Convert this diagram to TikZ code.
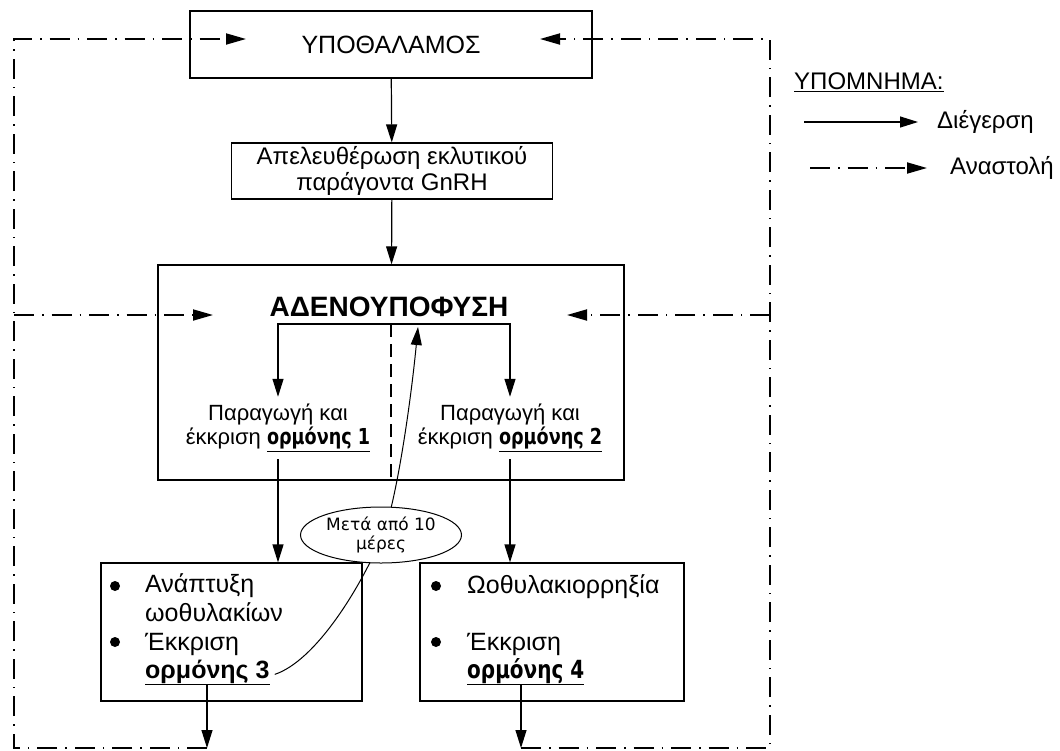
\documentclass[tikz,border=0pt]{standalone}
\usepackage{fontspec}
\setmainfont{Liberation Sans}
\newfontfamily\tahoma[FakeStretch=0.8]{DejaVu Sans}
\newfontfamily\tahomaw{DejaVu Sans}
\usetikzlibrary{arrows.meta,shapes.geometric,positioning}

\begin{document}
\begin{tikzpicture}[x=1pt,y=-1pt]
\tikzset{stim/.style={-{Triangle[length=18pt,width=11pt]},line width=1.2pt}}
\tikzset{inhib/.style={-{Triangle[length=20pt,width=11pt]},line width=1.8pt,dash pattern=on 20pt off 8pt on 1.5pt off 8pt}}
\tikzstyle{box}=[draw,rectangle,line width=1.2pt,inner sep=0pt]
\tikzstyle{item}=[inner sep=0pt,anchor=base west,font=\fontsize{25}{28}\selectfont]
\tikzstyle{dot}=[circle,fill,inner sep=0pt,minimum size=10pt]
\newcommand{\horm}[1]{{\tahoma\bfseries\underline{ορμόνης #1}}}
\useasboundingbox (0,0) rectangle (1060,750);
% frame corners and arrow ends
\coordinate (fTL) at (14,39);
\coordinate (fTR) at (770,39);
\coordinate (fML) at (14,315);
\coordinate (fMR) at (770,315);
\coordinate (fBL) at (14,748);
\coordinate (fBR) at (770,748);
\coordinate (hL) at (246,39);
\coordinate (hR) at (540,39);
\coordinate (aL) at (213,315);
\coordinate (aR) at (567,315);
\coordinate (bot3) at (207,748);
\coordinate (bot4) at (521,748);
% boxes
\node[box,minimum width=402pt,minimum height=67pt,font=\fontsize{25}{28}\selectfont] (hypo) at (391,44.5) {ΥΠΟΘΑΛΑΜΟΣ};
\node[box,minimum width=321pt,minimum height=56pt,align=center,font=\fontsize{24}{26}\selectfont] (gnrh) at (392,171) {Απελευθέρωση εκλυτικού\\παράγοντα GnRH};
\node[box,minimum width=466pt,minimum height=215pt] (adeno) at (391,372.5) {};
\node[inner sep=0pt,font=\bfseries\fontsize{28}{30}\selectfont] (title) at (389,307) {ΑΔΕΝΟΥΠΟΦΥΣΗ};
\coordinate (split) at (391,324);
\node[align=center,inner sep=0pt,minimum height=62pt,font=\fontsize{22}{24}\selectfont] (t1) at (278,428) {Παραγωγή και\\έκκριση \horm{1}};
\node[align=center,inner sep=0pt,minimum height=62pt,font=\fontsize{22}{24}\selectfont] (t2) at (510,428) {Παραγωγή και\\έκκριση \horm{2}};
\node[box,minimum width=261pt,minimum height=138pt] (b3) at (231.5,632) {};
\node[box,minimum width=264pt,minimum height=138pt] (b4) at (552,632) {};
% box 3 list
\node[dot] (d31) at (115,586) {};
\node[dot] (d32) at (115,642) {};
\node[item] (a1) at (145,592) {Ανάπτυξη};
\node[item] (a2) at (145,621) {ωοθυλακίων};
\node[item] (a3) at (145,650) {Έκκριση};
\node[item] (h3) at (145,678) {\textbf{\underline{ορμόνης 3}}};
% box 4 list
\node[dot] (d41) at (436,586) {};
\node[dot] (d42) at (436,642) {};
\node[item] (w1) at (467,593) {Ωοθυλακιορρηξία};
\node[item] (w2) at (467,650) {Έκκριση};
\node[item] (h4) at (467,678) {\horm{4}};
% stimulation
\draw[stim] (hypo) -- (gnrh);
\draw[stim] (gnrh) -- (adeno);
\draw[stim] (split) -| (t1);
\draw[stim] (split) -| (t2);
\draw[line width=1.8pt,dash pattern=on 13pt off 7pt] (split) -- (split |- adeno.south);
\draw[stim] (t1) -- (t1 |- b3.north);
\draw[stim] (t2) -- (t2 |- b4.north);
\draw[stim] (h3.south -| bot3) -- (bot3);
\draw[stim] (h4.south -| bot4) -- (bot4);
\coordinate (fb) at (418,327);
\draw[stim,line width=1pt] ([xshift=5pt,yshift=-2pt]h3.east) .. controls (315,661) and (360,590) .. (385,530) .. controls (398,490) and (411,400) .. (fb);
\node[ellipse,draw,fill=white,line width=1pt,minimum width=161pt,minimum height=56pt,inner sep=0pt,align=center,font=\tahomaw\fontsize{17}{19}\selectfont] (delay) at (381,535) {Μετά από 10\\μέρες};
% inhibition
\draw[inhib] (bot3) -- (fBL) -- (fTL) -- (hL);
\draw[inhib] (fML) -- (aL);
\draw[inhib] (bot4) -- (fBR) -- (fTR) -- (hR);
\draw[inhib] (fMR) -- (aR);
% legend
\node[anchor=west,inner sep=0pt,font=\fontsize{24}{28}\selectfont] (legend) at (794,82) {\underline{ΥΠΟΜΝΗΜΑ:}};
\node[anchor=west,inner sep=0pt,font=\fontsize{24}{28}\selectfont] (dieg) at (937,122) {Διέγερση};
\node[anchor=west,inner sep=0pt,font=\fontsize{24}{28}\selectfont] (anast) at (950,168) {Αναστολή};
\coordinate (ls) at (804,122);
\coordinate (li) at (810,168);
\draw[stim,shorten >=19pt] (ls) -- (dieg);
\draw[inhib,shorten >=23pt] (li) -- (anast);
\end{tikzpicture}
\end{document}
